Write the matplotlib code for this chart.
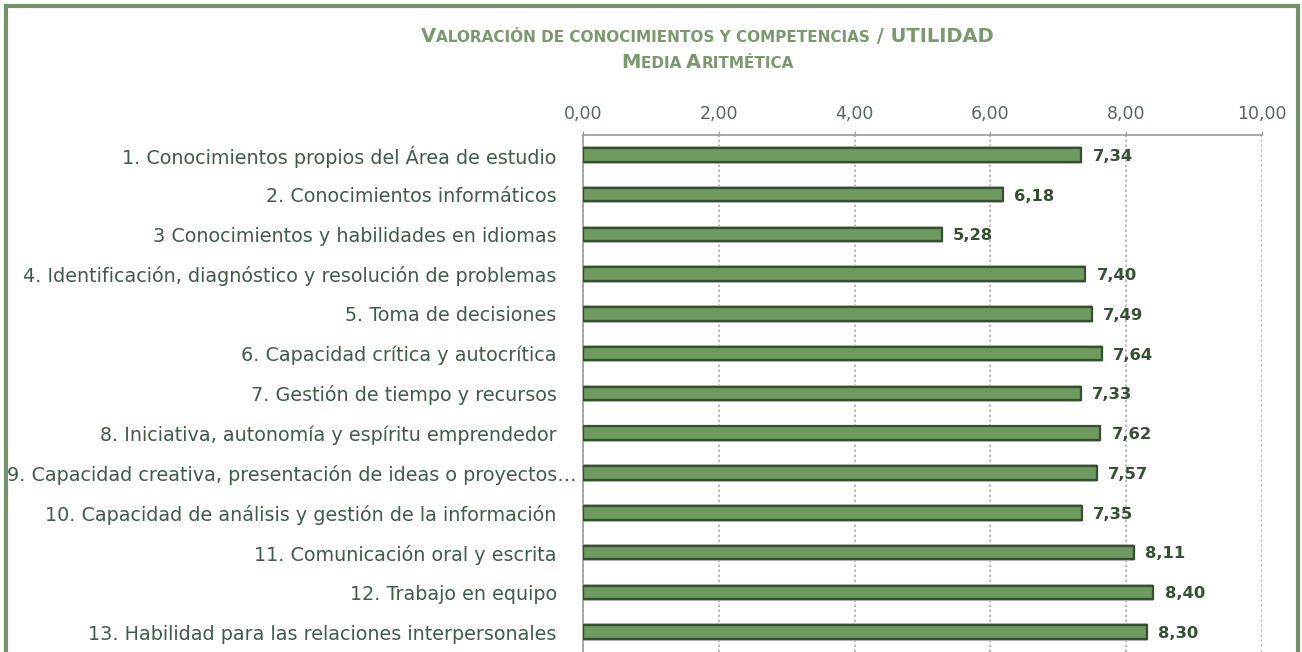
import matplotlib
matplotlib.use("Agg")
import matplotlib.pyplot as plt
from matplotlib.patches import Rectangle
from matplotlib.transforms import ScaledTranslation
from matplotlib.offsetbox import TextArea, HPacker, VPacker, AnchoredOffsetbox

categories = [
    "1. Conocimientos propios del Área de estudio",
    "2. Conocimientos informáticos",
    "3 Conocimientos y habilidades en idiomas",
    "4. Identificación, diagnóstico y resolución de problemas",
    "5. Toma de decisiones",
    "6. Capacidad crítica y autocrítica",
    "7. Gestión de tiempo y recursos",
    "8. Iniciativa, autonomía y espíritu emprendedor",
    "9. Capacidad creativa, presentación de ideas o proyectos…",
    "10. Capacidad de análisis y gestión de la información",
    "11. Comunicación oral y escrita",
    "12. Trabajo en equipo",
    "13. Habilidad para las relaciones interpersonales",
]
values = [7.34, 6.18, 5.28, 7.40, 7.49, 7.64, 7.33, 7.62, 7.57, 7.35, 8.11, 8.40, 8.30]
x_ticks = [0, 2, 4, 6, 8, 10]
x_tick_labels = ["0,00", "2,00", "4,00", "6,00", "8,00", "10,00"]

FONT = "DejaVu Sans"
LABEL_COLOR = "#3e5e46"
TITLE_COLOR = "#789a6c"
BAR_FACE = "#6e9a5f"
BAR_EDGE = "#34502f"
FRAME = "#70916a"

fig = plt.figure(figsize=(13.02, 6.52), dpi=100)
fig.patch.set_facecolor("white")

# outer chart frame
fig.add_artist(Rectangle((0.0045, -0.02), 0.9925, 1.011, transform=fig.transFigure,
                         fill=False, edgecolor=FRAME, linewidth=3.0, zorder=0))

ax = fig.add_axes([0.4478, 0.0, 0.5215, 0.793])
ax.set_xlim(0, 10)
ax.set_ylim(len(categories) - 0.5, -0.5)

y = list(range(len(categories)))
# soft grey halo behind each bar
ax.barh(y, values, height=0.44, color="#bdbdbd", edgecolor="none", zorder=2)
ax.barh(y, values, height=0.34, color=BAR_FACE, edgecolor=BAR_EDGE, linewidth=1.6, zorder=3)

for yi, v in zip(y, values):
    ax.annotate(f"{v:.2f}".replace(".", ","), xy=(v, yi), xytext=(8, -1),
                textcoords="offset points", ha="left", va="center",
                fontsize=11.8, fontweight="bold", color="#345232", family=FONT, zorder=4)

ax.xaxis.tick_top()
ax.set_xticks(x_ticks)
ax.set_xticklabels(x_tick_labels, fontsize=12.5, color="#56685a", family=FONT)
ax.tick_params(axis="x", direction="out", length=3, color="#999999", pad=5.5)
ax.set_yticks(y)
ax.set_yticklabels(categories, fontsize=13.8, color=LABEL_COLOR, family=FONT)
ax.tick_params(axis="y", length=0, pad=19)

# the long truncated label runs a little closer to the axis
lbl9 = ax.get_yticklabels()[8]
lbl9.set_transform(lbl9.get_transform() + ScaledTranslation(20 / 100, 0, fig.dpi_scale_trans))

ax.grid(axis="x", linestyle=(0, (1.5, 1.5)), color="#b0b0b0", linewidth=1.2, zorder=1)
for side in ("right", "bottom"):
    ax.spines[side].set_visible(False)
for side in ("top", "left"):
    ax.spines[side].set_color("#9a9a9a")
    ax.spines[side].set_linewidth(1.2)

# small-caps style title
def sc(parts):
    boxes = []
    for txt, big in parts:
        boxes.append(TextArea(txt, textprops=dict(fontsize=14 if big else 11,
                                                  fontweight="bold", color=TITLE_COLOR,
                                                  family=FONT)))
    return HPacker(children=boxes, align="baseline", pad=0, sep=0)

line1 = sc([("V", True), ("ALORACIÓN DE CONOCIMIENTOS Y COMPETENCIAS", False),
            (" / UTILIDAD", True)])
line2 = sc([("M", True), ("EDIA ", False), ("A", True), ("RITMÉTICA", False)])
title = VPacker(children=[line1, line2], align="center", pad=0, sep=5)
anchored = AnchoredOffsetbox(loc="upper center", child=title, frameon=False,
                             bbox_to_anchor=(0.5435, 0.958), bbox_transform=fig.transFigure,
                             borderpad=0, pad=0)
fig.add_artist(anchored)

fig.savefig("out.png", dpi=100, facecolor="white")
